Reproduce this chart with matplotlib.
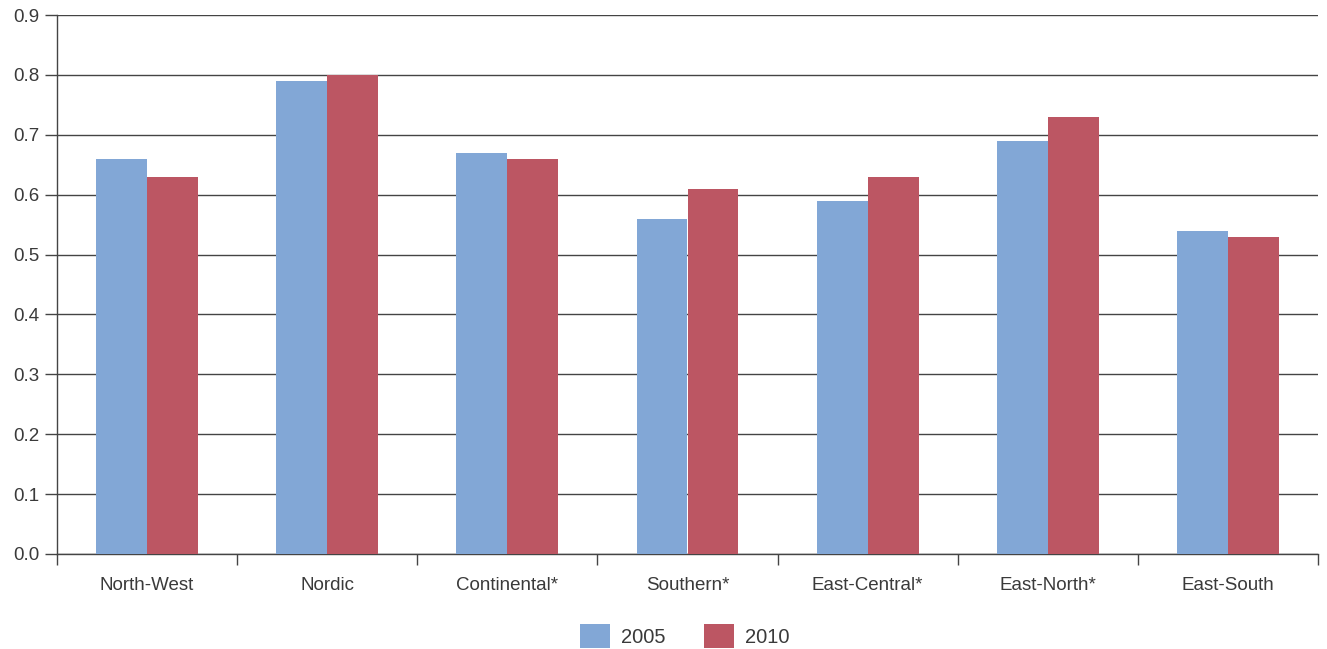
import matplotlib
matplotlib.use("Agg")
import matplotlib.pyplot as plt
import numpy as np

categories = ["North-West", "Nordic", "Continental*", "Southern*", "East-Central*", "East-North*", "East-South"]
series_names = ["2005", "2010"]
values_2005 = [0.66, 0.79, 0.67, 0.56, 0.59, 0.69, 0.54]
values_2010 = [0.63, 0.80, 0.66, 0.61, 0.63, 0.73, 0.53]
yticks = [0.0, 0.1, 0.2, 0.3, 0.4, 0.5, 0.6, 0.7, 0.8, 0.9]

plt.rcParams['font.family'] = ['Liberation Sans', 'DejaVu Sans']
text_color = "#3a3a3a"
line_color = "#444444"
c2005 = "#82A7D6"
c2010 = "#BC5663"

fig = plt.figure(figsize=(13.27, 6.49), dpi=100)
ax = fig.add_axes([57/1327, 1-554/649, (1318-57)/1327, (554-15)/649])

x = np.arange(len(categories))
w = 0.283
ax.bar(x - w/2, values_2005, width=w, color=c2005, label=series_names[0], zorder=3)
ax.bar(x + w/2, values_2010, width=w, color=c2010, label=series_names[1], zorder=3)

ax.set_xlim(-0.5, len(categories) - 0.5)
ax.set_ylim(0, 0.9)
ax.set_yticks(yticks)
ax.set_yticklabels([f"{t:.1f}" for t in yticks])
ax.yaxis.grid(True, color=line_color, linewidth=1, zorder=1)
ax.set_axisbelow(True)

ax.set_xticks(x)
ax.set_xticklabels(categories)
ax.set_xticks(np.arange(-0.5, len(categories)), minor=True)
ax.tick_params(axis='x', which='major', length=0, pad=16.5, labelsize=13.5, labelcolor=text_color)
ax.tick_params(axis='x', which='minor', length=8, width=1, color=line_color, direction='out')
ax.tick_params(axis='y', length=8.5, width=1, color=line_color, pad=4, labelsize=13.5, labelcolor=text_color)

for s in ["top", "right"]:
    ax.spines[s].set_visible(False)
ax.spines["left"].set_color(line_color)
ax.spines["bottom"].set_color(line_color)
ax.spines["left"].set_linewidth(1)
ax.spines["bottom"].set_linewidth(1)

leg = fig.legend(loc="center", bbox_to_anchor=(685/1327, 1-636/649), ncol=2, frameon=False,
                 fontsize=14.5, handlelength=1.5, handleheight=1.45, columnspacing=1.9,
                 handletextpad=0.55, labelcolor=text_color)

fig.savefig("out.png", dpi=100)
